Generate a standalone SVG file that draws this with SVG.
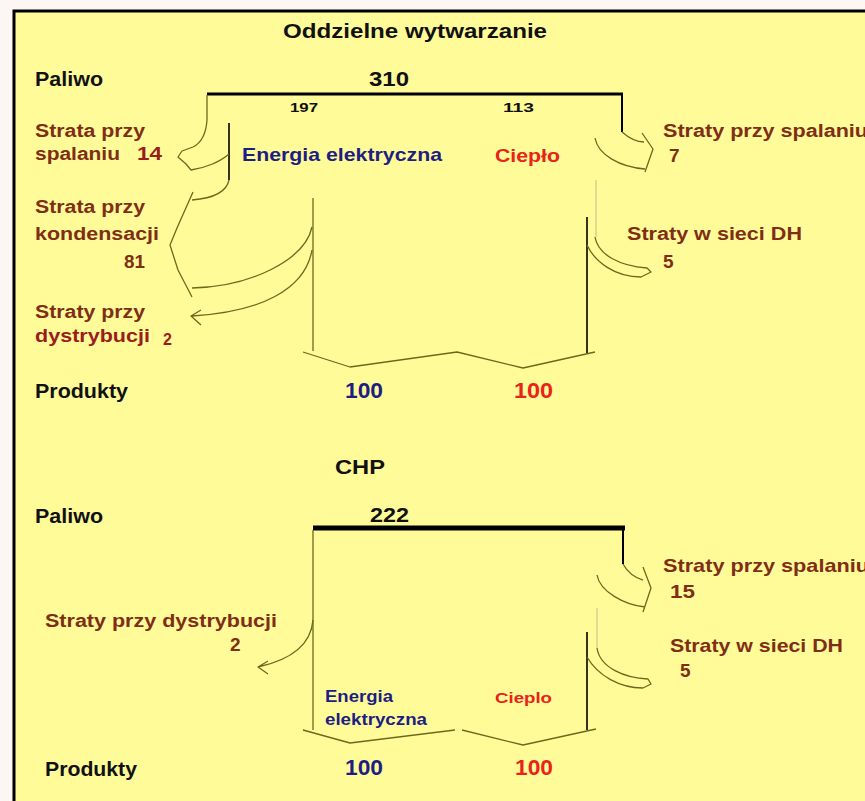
<svg xmlns="http://www.w3.org/2000/svg" width="865" height="801" viewBox="0 0 865 801">
<style>
text{font-family:"Liberation Sans",Arial,sans-serif;font-weight:bold}
.k{fill:#111}
.br{fill:#7f2e16}
.dr{fill:#9a1c1c}
.nv{fill:#1d1d82}
.rd{fill:#e8231a}
.ol{fill:none;stroke:#6a6a1c;stroke-width:1.3;stroke-linejoin:round}
.fa{fill:none;stroke:#cdc88c;stroke-width:1.2}
.bk{fill:none;stroke:#000}
</style>
<rect width="865" height="801" fill="#fcf7f4"/>
<rect x="14" y="11" width="860" height="800" fill="#fffb99" stroke="#000" stroke-width="3"/>

<g id="connectors">
  <!-- top section -->
  <path class="bk" stroke-width="3" d="M207,94 H623"/>
  <path class="bk" stroke-width="2" d="M622,94 V132"/>
  <path class="bk" stroke-width="1.6" d="M229,123 V180"/>
  <path class="bk" stroke-width="1.6" d="M587,217 V353"/>
  <path class="ol" d="M207,95 V120 C206,135 201,143 193,147 L182,151 L178,157 L186,164 L191,170 C205,168 220,162 229,154"/>
  <path class="ol" d="M229,180 C227,190 217,198 192,200"/>
  <path class="ol" d="M193,192 L177,228 L170,245 L178,270 L192,297"/>
  <path class="ol" d="M192,288 C250,287 305,260 312,227"/>
  <path class="ol" d="M312,250 C305,290 260,312 192,316 M201,310 L191,316 L201,325"/>
  <path class="ol" d="M313,198 V351"/>
  <path class="ol" d="M303,352 L350,367 L457,352 L523,368 L595,352"/>
  <path class="ol" d="M622,132 C630,139 638,142 644,142 M642,133 L653,149 L645,172 M595,138 C598,155 620,167 645,169"/>
  <path class="fa" d="M596,180 V237"/>
  <path class="ol" d="M595,237 C598,255 620,266 647,268 L651,272 L641,277 C615,277 595,262 587,245"/>
  <!-- CHP section -->
  <path class="bk" stroke-width="5" d="M313,528 H625"/>
  <path class="bk" stroke-width="2" d="M623,528 V564"/>
  <path class="bk" stroke-width="1.6" d="M587,632 V730"/>
  <path class="ol" d="M313,530 V730"/>
  <path class="ol" d="M313,620 C311,645 290,660 258,667 M268,661 L258,667 L268,674"/>
  <path class="ol" d="M303,730 L350,743 L455,730 M462,730 L523,745 L596,729"/>
  <path class="ol" d="M623,564 C628,573 636,578 643,580 M643,567 L651,588 L643,612 M597,575 C600,592 625,605 645,607"/>
  <path class="fa" d="M597,608 V648"/>
  <path class="ol" d="M597,648 C600,668 625,678 648,679 L651,684 L643,688 C620,688 598,676 587,657"/>
</g>

<g id="title-top"><text class="k" x="283" y="38" font-size="20" textLength="264" lengthAdjust="spacingAndGlyphs">Oddzielne wytwarzanie</text></g>
<g id="paliwo-top"><text class="k" x="35" y="86" font-size="20" textLength="68" lengthAdjust="spacingAndGlyphs">Paliwo</text></g>
<g id="fuel-310"><text class="k" x="369" y="86" font-size="20" textLength="40" lengthAdjust="spacingAndGlyphs">310</text></g>
<g id="v197"><text class="k" x="290" y="112" font-size="13" textLength="28" lengthAdjust="spacingAndGlyphs">197</text></g>
<g id="v113"><text class="k" x="503" y="112" font-size="13" textLength="31" lengthAdjust="spacingAndGlyphs">113</text></g>

<g id="loss-spalanie-14">
  <text class="br" x="35" y="137" font-size="18" textLength="110" lengthAdjust="spacingAndGlyphs">Strata przy</text>
  <text class="br" x="35" y="160" font-size="18" textLength="85" lengthAdjust="spacingAndGlyphs">spalaniu</text>
  <text class="dr" x="137" y="160" font-size="19" textLength="25" lengthAdjust="spacingAndGlyphs">14</text>
</g>
<g id="energia-top"><text class="nv" x="242" y="161" font-size="19" textLength="200" lengthAdjust="spacingAndGlyphs">Energia elektryczna</text></g>
<g id="cieplo-top"><text class="rd" x="495" y="162" font-size="19" textLength="65" lengthAdjust="spacingAndGlyphs">Ciepło</text></g>
<g id="loss-spalanie-7">
  <text class="br" x="663" y="137" font-size="18" textLength="205" lengthAdjust="spacingAndGlyphs">Straty przy spalaniu</text>
  <text class="br" x="669" y="162" font-size="19">7</text>
</g>
<g id="loss-kondensacja-81">
  <text class="br" x="35" y="213" font-size="18" textLength="110" lengthAdjust="spacingAndGlyphs">Strata przy</text>
  <text class="br" x="35" y="240" font-size="18" textLength="124" lengthAdjust="spacingAndGlyphs">kondensacji</text>
  <text class="br" x="124" y="268" font-size="19" textLength="21" lengthAdjust="spacingAndGlyphs">81</text>
</g>
<g id="loss-dh-5-top">
  <text class="br" x="627" y="240" font-size="18" textLength="175" lengthAdjust="spacingAndGlyphs">Straty w sieci DH</text>
  <text class="br" x="663" y="268" font-size="19">5</text>
</g>
<g id="loss-dystrybucja-2-top">
  <text class="br" x="35" y="318" font-size="18" textLength="110" lengthAdjust="spacingAndGlyphs">Straty przy</text>
  <text class="dr" x="35" y="342" font-size="18" textLength="115" lengthAdjust="spacingAndGlyphs">dystrybucji</text>
  <text class="dr" x="163" y="345" font-size="16">2</text>
</g>
<g id="produkty-top">
  <text class="k" x="35" y="398" font-size="20" textLength="93" lengthAdjust="spacingAndGlyphs">Produkty</text>
  <text class="nv" x="345" y="398" font-size="22" textLength="38" lengthAdjust="spacingAndGlyphs">100</text>
  <text class="rd" x="514" y="398" font-size="22" textLength="39" lengthAdjust="spacingAndGlyphs">100</text>
</g>

<g id="title-chp"><text class="k" x="335" y="474" font-size="20" textLength="50" lengthAdjust="spacingAndGlyphs">CHP</text></g>
<g id="paliwo-chp"><text class="k" x="35" y="523" font-size="20" textLength="68" lengthAdjust="spacingAndGlyphs">Paliwo</text></g>
<g id="fuel-222"><text class="k" x="370" y="522" font-size="20" textLength="39" lengthAdjust="spacingAndGlyphs">222</text></g>
<g id="loss-spalanie-15">
  <text class="br" x="663" y="572" font-size="19" textLength="206" lengthAdjust="spacingAndGlyphs">Straty przy spalaniu</text>
  <text class="br" x="670" y="598" font-size="19" textLength="25" lengthAdjust="spacingAndGlyphs">15</text>
</g>
<g id="loss-dystrybucja-2-chp">
  <text class="br" x="45" y="627" font-size="18" textLength="232" lengthAdjust="spacingAndGlyphs">Straty przy dystrybucji</text>
  <text class="br" x="230" y="651" font-size="19">2</text>
</g>
<g id="loss-dh-5-chp">
  <text class="br" x="670" y="652" font-size="19" textLength="173" lengthAdjust="spacingAndGlyphs">Straty w sieci DH</text>
  <text class="br" x="680" y="677" font-size="19">5</text>
</g>
<g id="energia-chp">
  <text class="nv" x="325" y="702" font-size="16" textLength="68" lengthAdjust="spacingAndGlyphs">Energia</text>
  <text class="nv" x="325" y="725" font-size="16" textLength="102" lengthAdjust="spacingAndGlyphs">elektryczna</text>
</g>
<g id="cieplo-chp"><text class="rd" x="495" y="703" font-size="15" textLength="57" lengthAdjust="spacingAndGlyphs">Cieplo</text></g>
<g id="produkty-chp">
  <text class="k" x="45" y="776" font-size="20" textLength="92" lengthAdjust="spacingAndGlyphs">Produkty</text>
  <text class="nv" x="345" y="775" font-size="22" textLength="38" lengthAdjust="spacingAndGlyphs">100</text>
  <text class="rd" x="515" y="775" font-size="22" textLength="38" lengthAdjust="spacingAndGlyphs">100</text>
</g>
</svg>
